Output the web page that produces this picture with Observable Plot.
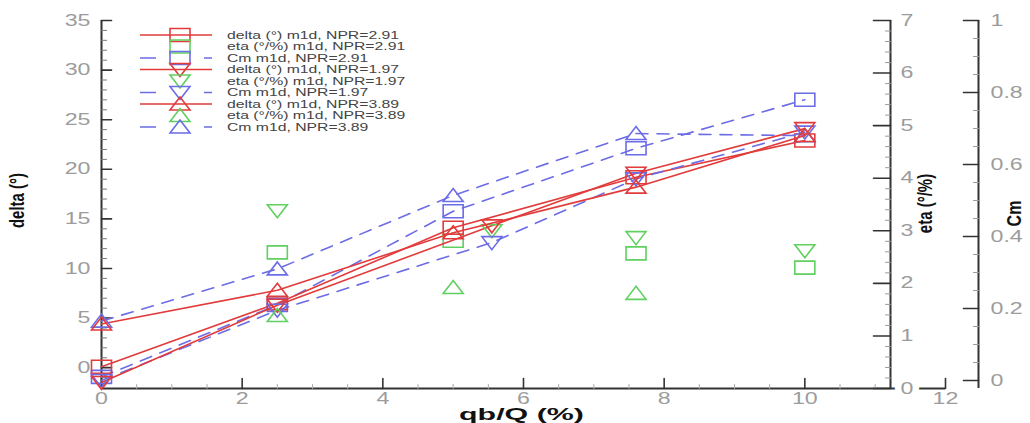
<!DOCTYPE html>
<html><head><meta charset="utf-8">
<script src="https://cdn.jsdelivr.net/npm/d3@7"></script>
<script src="https://cdn.jsdelivr.net/npm/@observablehq/plot@0.6"></script>
<style>
body{margin:0;background:#fff;}
#chart{width:1030px;height:423px;overflow:hidden;}
</style></head>
<body><div id="chart"></div>
<script>
// ---------- data ----------
const xNpr291 = [0, 2.5, 5, 7.6, 10];
const xNpr197 = [0, 2.5, 5.55, 7.6, 10];
const xNpr389 = [0, 2.5, 5, 7.6, 10];
const delta291 = [0.1, 6.5, 14.1, 19.2, 22.9];
const delta197 = [-1.5, 6.3, 14.3, 19.6, 24.1];
const delta389 = [4.4, 7.8, 13.6, 18.2, 23.4];
const etaX291 = [2.5, 5, 7.6, 10];
const eta291 = [2.59, 2.81, 2.57, 2.30];
const etaX197 = [2.5, 5.55, 7.6, 10];
const eta197 = [3.38, 3.0, 2.87, 2.62];
const etaX389 = [2.5, 5, 7.6];
const eta389 = [1.39, 1.92, 1.81];
const cm291 = [0.01, 0.21, 0.47, 0.645, 0.78];
const cm197 = [0.0, 0.195, 0.383, 0.56, 0.69];
const cm389 = [0.165, 0.31, 0.514, 0.686, 0.68];
const legendLabels = [
  "delta (°) m1d, NPR=2.91", "eta (°/%) m1d, NPR=2.91", "Cm m1d, NPR=2.91",
  "delta (°) m1d, NPR=1.97", "eta (°/%) m1d, NPR=1.97", "Cm m1d, NPR=1.97",
  "delta (°) m1d, NPR=3.89", "eta (°/%) m1d, NPR=3.89", "Cm m1d, NPR=3.89"
];
const deltaTicks = [0, 5, 10, 15, 20, 25, 30, 35];
const xTicks = [0, 2, 4, 6, 8, 10, 12];
const etaTicks = [0, 1, 2, 3, 4, 5, 6, 7];
const cmTicks = [0, 0.2, 0.4, 0.6, 0.8, 1];
const cmTickLabels = ["0", "0.2", "0.4", "0.6", "0.8", "1"];
const axisTitles = {x: "qb/Q (%)", delta: "delta (°)", eta: "eta (°/%)", cm: "Cm"};

// ---------- style / layout ----------
const RED = "#e23b3b", GREEN = "#60d060", BLUE = "#6c6ce6", AX = "#333", LBL = "#9c9c9c";
const yDomain = [-2.1, 35];
const frameTop = 20, frameBottom = 388, left = 101, right = 945;
const pxToDelta = px => yDomain[0] + (frameBottom - px) * (yDomain[1] - yDomain[0]) / (frameBottom - frameTop);
const etaToDelta = e => pxToDelta(frameBottom - e * (frameBottom - frameTop) / 7);
const cmToDelta = c => pxToDelta(380 - c * (380 - frameTop));
const xPx = d3.scaleLinear([0, 12], [left, right]);
const etaAxisX = xPx.invert(890), cmAxisX = xPx.invert(978);

const symSquare = {draw(c){c.moveTo(-10,-6.5);c.lineTo(10,-6.5);c.lineTo(10,6.5);c.lineTo(-10,6.5);c.closePath();}};
const symTri = {draw(c){c.moveTo(0,-7);c.lineTo(10,6);c.lineTo(-10,6);c.closePath();}};
const symInv = {draw(c){c.moveTo(0,7);c.lineTo(10,-6);c.lineTo(-10,-6);c.closePath();}};
const tickShape = {draw(c, l){c.moveTo(0,0);c.lineTo(0,-l);}};

const series = [
  {xs: xNpr291, delta: delta291, ex: etaX291, eta: eta291, cm: cm291, sym: symSquare},
  {xs: xNpr197, delta: delta197, ex: etaX197, eta: eta197, cm: cm197, sym: symInv},
  {xs: xNpr389, delta: delta389, ex: etaX389, eta: eta389, cm: cm389, sym: symTri}
];

const minor = (a, b, step, majors) => d3.range(a, b + step/2, step).map(v => +v.toFixed(4)).filter(v => !majors.some(m => Math.abs(m - v) < 1e-6));
const tick = (vals, opts) => Plot.vector(vals, {shape: tickShape, anchor: "start", stroke: AX, strokeWidth: 1.6, ...opts});

const marks = [];
// axis lines
marks.push(Plot.ruleX([0], {y1: yDomain[0], y2: yDomain[1], stroke: AX, strokeWidth: 2}));
marks.push(Plot.ruleY([yDomain[0]], {x1: 0, x2: 12, stroke: AX, strokeWidth: 2}));
marks.push(Plot.ruleX([etaAxisX], {y1: yDomain[0], y2: yDomain[1], stroke: AX, strokeWidth: 2}));
marks.push(Plot.ruleX([cmAxisX], {y1: yDomain[0], y2: yDomain[1], stroke: AX, strokeWidth: 2}));
// ticks
marks.push(tick(deltaTicks, {x: 0, y: d => d, rotate: 90, length: 10}));
marks.push(tick(minor(-1, 34, 1, deltaTicks), {x: 0, y: d => d, rotate: 90, length: 5, strokeWidth: 1, stroke: "#777"}));
marks.push(tick(xTicks, {x: d => d, y: yDomain[0], rotate: 0, length: 10}));
marks.push(tick(minor(0.5, 11.5, 0.5, xTicks), {x: d => d, y: yDomain[0], rotate: 0, length: 4, strokeWidth: 1, stroke: "#aaa"}));
marks.push(tick(etaTicks, {x: etaAxisX, y: d => etaToDelta(d), rotate: -90, length: 17}));
marks.push(tick(minor(0.2, 6.8, 0.2, etaTicks), {x: etaAxisX, y: d => etaToDelta(d), rotate: -90, length: 5, strokeWidth: 1, stroke: "#999"}));
marks.push(tick(cmTicks, {x: cmAxisX, y: d => cmToDelta(d), rotate: -90, length: 15}));
marks.push(tick(minor(0.05, 0.95, 0.05, cmTicks), {x: cmAxisX, y: d => cmToDelta(d), rotate: -90, length: 5, strokeWidth: 1, stroke: "#999"}));
// tick labels
const lblStyle = {fill: LBL, fontSize: 16, fontFamily: "Liberation Sans"};
marks.push(Plot.text(deltaTicks, {x: 0, y: d => d, text: d => String(d), textAnchor: "end", dx: -11, className: "swide", ...lblStyle}));
marks.push(Plot.text(xTicks, {x: d => d, y: yDomain[0], text: d => String(d), dy: 10, className: "swide", ...lblStyle}));
marks.push(Plot.text(etaTicks, {x: etaAxisX, y: d => etaToDelta(d), text: d => String(d), textAnchor: "start", dx: 10, className: "swide", stroke: d => d === 0 ? "white" : "none", strokeWidth: 9, ...lblStyle}));
marks.push(Plot.text(cmTicks, {x: cmAxisX, y: d => cmToDelta(d), text: (d, i) => cmTickLabels[i], textAnchor: "start", dx: 12, className: "swide", ...lblStyle}));
// axis titles
const ttl = {fill: "#111", fontWeight: "bold", fontFamily: "Liberation Sans", textAnchor: "middle", lineAnchor: "middle"};
marks.push(Plot.text([axisTitles.x], {frameAnchor: "bottom", dy: 26, dx: -2, text: d => d, fontSize: 16, className: "xwide", ...ttl}));
marks.push(Plot.text([axisTitles.delta], {frameAnchor: "left", dx: -84, dy: -4, rotate: -90, text: d => d, fontSize: 15, className: "vwide", ...ttl}));
marks.push(Plot.text([axisTitles.eta], {frameAnchor: "right", dx: -20, dy: -1, rotate: -90, text: d => d, fontSize: 15, className: "vwide", ...ttl}));
marks.push(Plot.text([axisTitles.cm], {frameAnchor: "right", dx: 69, dy: 9, rotate: -90, text: d => d, fontSize: 16, className: "vwide", ...ttl}));

// data
for (const s of series) {
  const dRows = s.xs.map((x, i) => ({x, y: s.delta[i]}));
  const cRows = s.xs.map((x, i) => ({x, y: cmToDelta(s.cm[i])}));
  const eRows = s.ex.map((x, i) => ({x, y: etaToDelta(s.eta[i])}));
  marks.push(Plot.line(cRows, {x: "x", y: "y", stroke: BLUE, strokeWidth: 1.6, strokeDasharray: "12,9"}));
  marks.push(Plot.line(dRows, {x: "x", y: "y", stroke: RED, strokeWidth: 1.6}));
  marks.push(Plot.dot(eRows, {x: "x", y: "y", symbol: s.sym, stroke: GREEN, strokeWidth: 1.6, fill: "none"}));
  marks.push(Plot.dot(cRows, {x: "x", y: "y", symbol: s.sym, stroke: BLUE, strokeWidth: 1.6, fill: "none"}));
  marks.push(Plot.dot(dRows, {x: "x", y: "y", symbol: s.sym, stroke: RED, strokeWidth: 1.6, fill: "none"}));
}

const svg = Plot.plot({
  width: 1030, height: 423,
  marginTop: frameTop, marginBottom: 423 - frameBottom, marginLeft: left, marginRight: 1030 - right,
  x: {domain: [0, 12], axis: null},
  y: {domain: yDomain, axis: null},
  style: {background: "#fff", overflow: "visible", fontFamily: "Liberation Sans"},
  marks
});

// horizontal stretch of text, as in the reference image
function stretch(sel, sx, sy) {
  svg.querySelectorAll(sel).forEach(t => {
    const tr = t.getAttribute("transform");
    if (tr) t.setAttribute("transform", tr + ` scale(${sx},${sy})`);
    else {
      const x = +t.getAttribute("x") || 0, y = +t.getAttribute("y") || 0;
      t.setAttribute("transform", `translate(${x},${y}) scale(${sx},${sy}) translate(${-x},${-y})`);
    }
  });
}
stretch("g.swide text", 1.45, 1);
stretch("g.xwide text", 1.9, 1);
stretch("g.vwide text", 1, 1.3);

// legend (inside plot area)
const kinds = ["delta", "eta", "cm"];
const colors = {delta: RED, eta: GREEN, cm: BLUE};
const syms = [symSquare, symInv, symTri];
const lg = d3.select(svg).append("g").attr("font-family", "Liberation Sans").attr("font-size", 10.5).attr("text-anchor", "start");
legendLabels.forEach((label, i) => {
  const kind = kinds[i % 3], sym = syms[Math.floor(i / 3)];
  const y = 35 + i * 11.5;
  if (kind === "delta") lg.append("line").attr("x1", 140).attr("x2", 212).attr("y1", y).attr("y2", y).attr("stroke", RED).attr("stroke-width", 1.6);
  if (kind === "cm") lg.append("line").attr("x1", 140).attr("x2", 212).attr("y1", y).attr("y2", y).attr("stroke", BLUE).attr("stroke-width", 1.6).attr("stroke-dasharray", "16,48,8");
  lg.append("path").attr("d", d3.symbol().type(sym)()).attr("transform", `translate(180,${y})`).attr("fill", "none").attr("stroke", colors[kind]).attr("stroke-width", 1.6);
  lg.append("text").attr("transform", `translate(227,${y}) scale(1.5,1)`).attr("dy", "0.35em").attr("text-anchor", "start").attr("fill", "#444").text(label);
});

document.getElementById("chart").appendChild(svg);
</script></body></html>
